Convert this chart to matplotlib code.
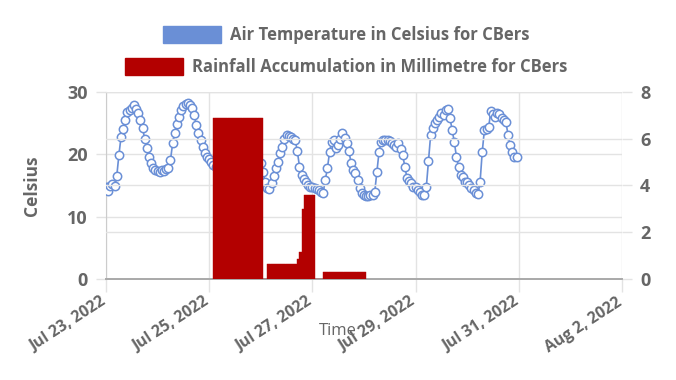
import matplotlib
matplotlib.use("Agg")
import matplotlib.pyplot as plt
import matplotlib.dates as mdates
import matplotlib.transforms as mtransforms
from matplotlib.patches import Patch
import pandas as pd

# Hourly air temperature (deg C) starting Jul 23 2022 00:00, one list per day
temp_jul23 = [14.8, 14.1, 14.9, 15.3, 14.9, 16.5, 19.9, 22.8, 24.0, 25.5, 26.8, 27.1,
              27.4, 27.9, 27.3, 26.6, 25.5, 24.2, 22.5, 21.0, 19.6, 18.6, 17.8, 17.5]
temp_jul24 = [17.4, 17.2, 17.5, 17.3, 17.6, 17.8, 19.1, 21.8, 23.4, 24.9, 26.0, 27.1,
              27.8, 28.1, 28.2, 27.9, 27.4, 26.3, 24.7, 23.4, 22.3, 21.2, 20.2, 19.6]
temp_jul25 = [19.3, 18.8, 18.3, 17.9, 17.6, 17.8, 19.0, 20.5, 22.0, 23.0, 23.8, 24.3,
              24.5, 24.4, 24.0, 23.2, 22.3, 21.4, 20.6, 19.9, 19.4, 19.1, 19.0, 18.8]
temp_jul26 = [18.6, 17.2, 15.6, 14.6, 14.4, 15.4, 16.5, 17.8, 18.8, 20.2, 21.2, 22.4,
              23.1, 22.9, 22.8, 22.5, 22.3, 20.5, 18.0, 16.7, 16.0, 15.6, 15.0, 14.8]
temp_jul27 = [14.8, 14.6, 14.5, 14.2, 14.0, 13.8, 15.9, 17.8, 20.4, 22.0, 22.3, 21.0,
              21.5, 22.5, 23.4, 22.6, 21.8, 20.5, 18.6, 17.5, 17.0, 15.9, 14.6, 13.8]
temp_jul28 = [13.5, 13.3, 13.3, 13.4, 13.5, 14.0, 17.2, 20.4, 22.0, 22.3, 22.3, 22.3,
              22.2, 21.8, 21.5, 21.2, 21.8, 20.9, 19.9, 18.0, 16.2, 15.8, 15.4, 14.8]
temp_jul29 = [14.8, 14.3, 14.0, 13.5, 13.5, 14.8, 19.0, 23.1, 24.2, 25.0, 25.5, 26.0,
              26.6, 26.3, 27.1, 27.3, 25.8, 23.9, 22.0, 19.6, 18.0, 16.7, 16.3, 15.6]
temp_jul30 = [15.6, 15.1, 14.6, 14.3, 13.8, 13.6, 15.6, 20.4, 23.9, 24.0, 24.4, 27.0,
              26.5, 26.0, 26.6, 26.5, 25.8, 25.5, 25.2, 23.1, 21.5, 20.4, 19.6, 19.6]
temperature = (temp_jul23 + temp_jul24 + temp_jul25 + temp_jul26 +
               temp_jul27 + temp_jul28 + temp_jul29 + temp_jul30)
temp_times = pd.date_range("2022-07-23 00:00", periods=len(temperature), freq="h")

# Hourly rainfall accumulation (mm) starting Jul 25 2022 02:00
rain_mm = ([6.9] * 23 + [0.0, 0.0] + [0.65] * 14 + [0.85, 1.15, 3.0] +
           [3.6] * 5 + [0.0] * 4 + [0.3] * 20)
rain_times = pd.date_range("2022-07-25 02:00", periods=len(rain_mm), freq="h")

x_start = pd.Timestamp("2022-07-23")
x_end = pd.Timestamp("2022-08-02")

BLUE = "#6a8fd6"
RED = "#b30000"
GREY = "#666666"
GRID = "#e3e3e3"

plt.rcParams["font.family"] = ["Open Sans", "DejaVu Sans"]

fig = plt.figure(figsize=(6.76, 3.8), dpi=100)
ax = fig.add_axes([0.1568, 0.2658, 0.7633, 0.4921])
ax2 = ax.twinx()

# temperature line (left axis)
ax.plot(temp_times, temperature, color=BLUE, linewidth=1.2, marker="o",
        markersize=6, markerfacecolor="white", markeredgecolor=BLUE,
        markeredgewidth=1.1, zorder=3)

# rainfall bars (right axis, drawn on top of the line)
ax2.bar(rain_times, rain_mm, width=1 / 24, align="edge", color=RED,
        edgecolor=RED, linewidth=0.3, zorder=3)

ax.set_xlim(x_start, x_end)
ax.set_ylim(0, 30)
ax2.set_ylim(0, 8)
ax.set_yticks([0, 10, 20, 30])
ax2.set_yticks([0, 2, 4, 6, 8])

ax.xaxis.set_major_locator(mdates.DayLocator(interval=2))
ax.xaxis.set_major_formatter(mdates.DateFormatter("%b %-d, %Y"))

# grids
ax.set_axisbelow(True)
ax2.set_axisbelow(True)
ax.grid(True, axis="both", color=GRID, linewidth=1)
ax2.grid(True, axis="y", color=GRID, linewidth=1)

for a in (ax, ax2):
    for s in ("top", "right", "left"):
        a.spines[s].set_visible(False)
    a.spines["bottom"].set_color("#aaaaaa")
    a.spines["bottom"].set_linewidth(1.3)
ax.spines["left"].set_visible(True)
ax.spines["left"].set_color("#cccccc")

ax.tick_params(axis="y", length=7, width=1, color=GRID, pad=6)
ax2.tick_params(axis="y", length=7, width=1, color=GRID, pad=6)
ax.tick_params(axis="x", length=9, width=1, color=GRID, pad=2)
for lab in ax.get_yticklabels() + ax2.get_yticklabels():
    lab.set_fontsize(13)
    lab.set_fontweight("bold")
    lab.set_color(GREY)
shift = mtransforms.ScaledTranslation(-6 / 100, 0, fig.dpi_scale_trans)
for lab in ax.get_xticklabels():
    lab.set_fontsize(11.3)
    lab.set_fontweight("bold")
    lab.set_color(GREY)
    lab.set_rotation(33)
    lab.set_ha("right")
    lab.set_rotation_mode("anchor")
    lab.set_transform(lab.get_transform() + shift)

ax.set_ylabel("Celsius", fontsize=12.5, fontweight="bold", color=GREY)
ax.yaxis.set_label_coords(-0.126, 0.5)
ax2.set_ylabel("Millimetre", fontsize=12.5, fontweight="bold", color=GREY)
ax2.yaxis.set_label_coords(1.118, 0.5)
ax.set_xlabel("Time", fontsize=12, color=GREY)
ax.xaxis.set_label_coords(0.45, -0.233)

# legend, one centred row per series
legend_rows = [(BLUE, "Air Temperature in Celsius for CBers", 35),
               (RED, "Rainfall Accumulation in Millimetre for CBers", 67)]
for colour, text, y_px in legend_rows:
    leg = fig.legend(handles=[Patch(facecolor=colour, edgecolor=colour)],
                     labels=[text], loc="center",
                     bbox_to_anchor=(0.512, 1 - y_px / 380),
                     frameon=False, handlelength=3.5, handleheight=1.15,
                     handletextpad=0.55, prop=dict(size=12, weight="bold"))
    for t in leg.get_texts():
        t.set_color(GREY)

fig.savefig("out.png", dpi=100)
